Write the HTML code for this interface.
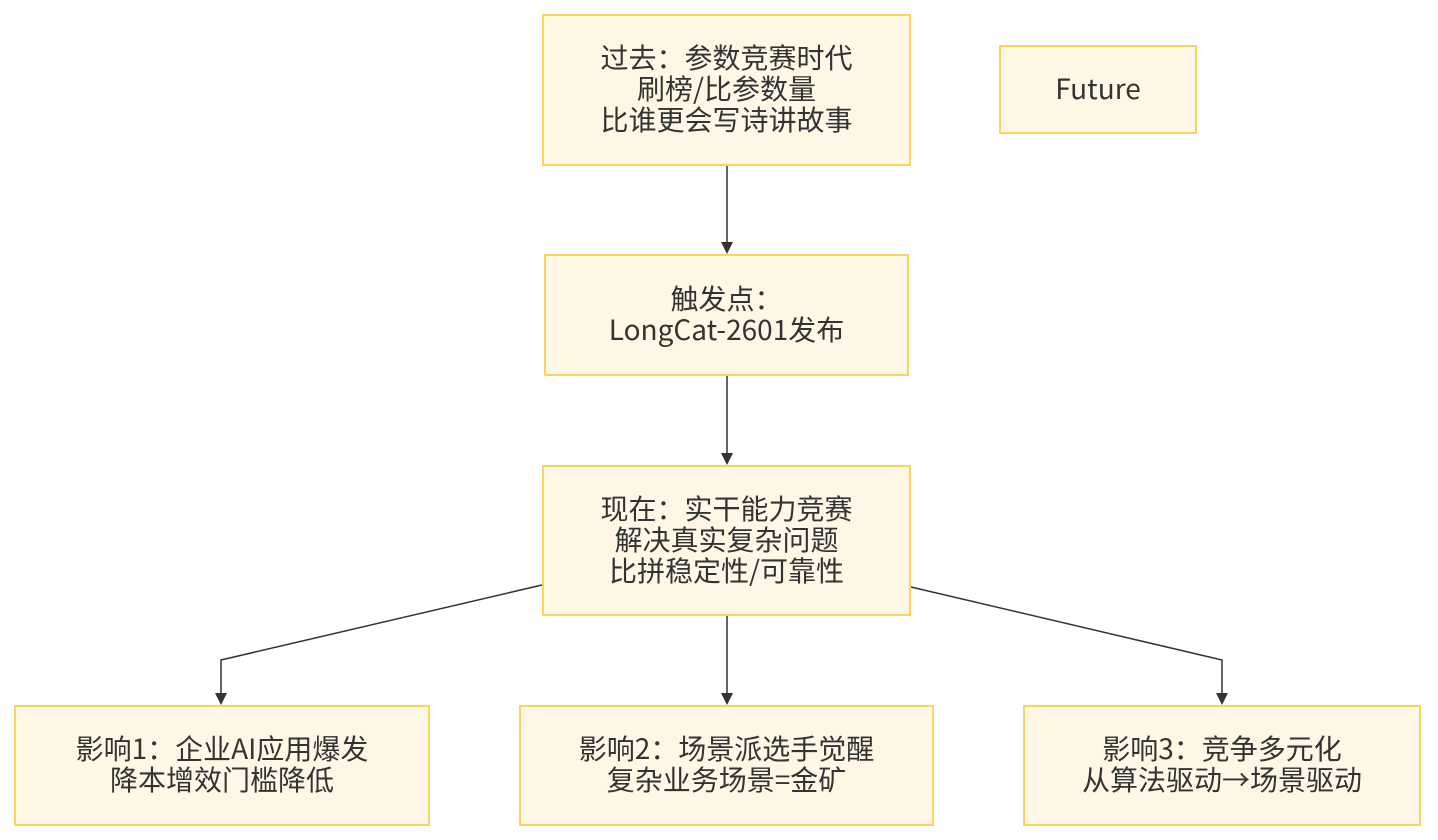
<!DOCTYPE html>
<html><head><meta charset="utf-8"><style>
body{margin:0;width:1438px;height:840px;background:#fff;position:relative;font-family:"Noto Sans CJK SC","Liberation Sans",sans-serif;}
.b{position:absolute;box-sizing:border-box;background:#fff7e6;border:2px solid #fdd35f;display:flex;align-items:center;justify-content:center;text-align:center;font-size:28px;line-height:31px;color:#333;padding-bottom:3px;}
svg{position:absolute;left:0;top:0}
</style></head><body>
<svg width="1438" height="840">
<defs><marker id="a" markerWidth="12" markerHeight="12" refX="10" refY="6" orient="auto" markerUnits="userSpaceOnUse"><path d="M0,0 L12,6 L0,12z" fill="#333"/></marker></defs>
<g stroke="#333" stroke-width="1.5" fill="none">
<line x1="727" y1="166" x2="727" y2="252" marker-end="url(#a)"/>
<line x1="727" y1="376" x2="727" y2="463" marker-end="url(#a)"/>
<line x1="727" y1="616" x2="727" y2="703" marker-end="url(#a)"/>
<polyline points="542,585 221,660 221,703" marker-end="url(#a)"/>
<polyline points="911,587 1222,660 1222,703" marker-end="url(#a)"/>
</g></svg>
<div class="b" style="left:542px;top:14px;width:369px;height:152px">过去：参数竞赛时代<br>刷榜/比参数量<br>比谁更会写诗讲故事</div>
<div class="b" style="left:999px;top:45px;width:198px;height:89px">Future</div>
<div class="b" style="left:544px;top:254px;width:365px;height:122px">触发点：<br>LongCat-2601发布</div>
<div class="b" style="left:542px;top:465px;width:369px;height:151px">现在：实干能力竞赛<br>解决真实复杂问题<br>比拼稳定性/可靠性</div>
<div class="b" style="left:14px;top:705px;width:416px;height:121px">影响1：企业AI应用爆发<br>降本增效门槛降低</div>
<div class="b" style="left:519px;top:705px;width:415px;height:121px">影响2：场景派选手觉醒<br>复杂业务场景=金矿</div>
<div class="b" style="left:1023px;top:705px;width:398px;height:121px">影响3：竞争多元化<br>从算法驱动→场景驱动</div>
</body></html>
